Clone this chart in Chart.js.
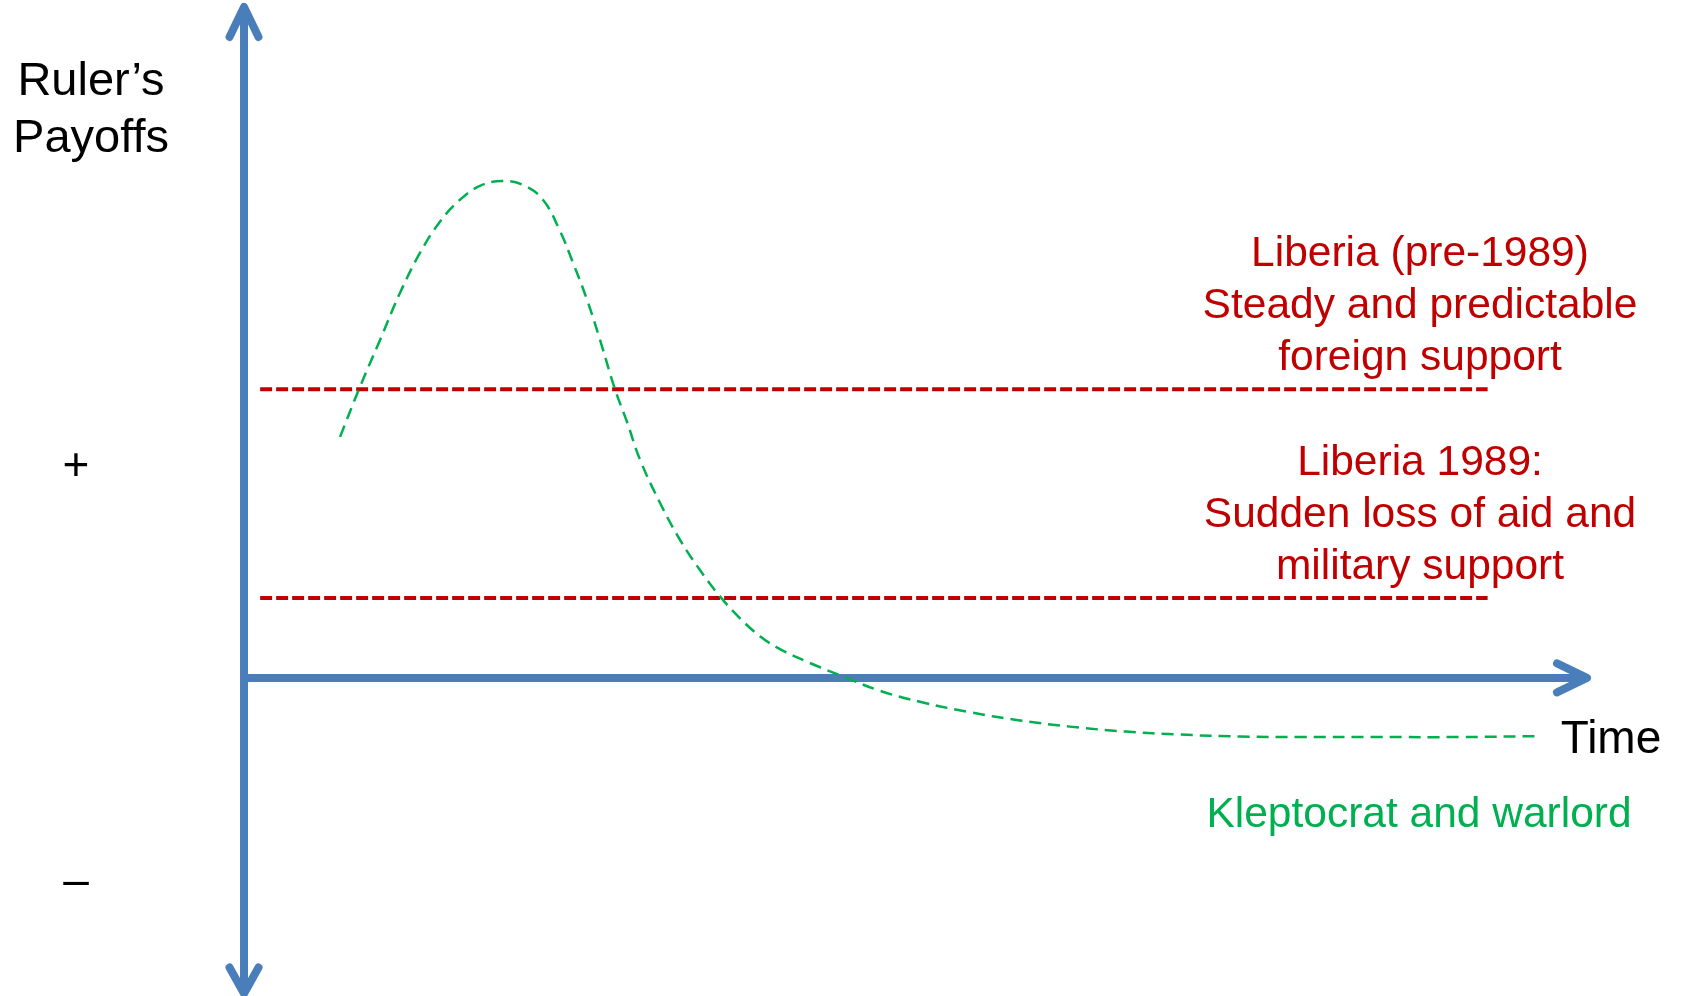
<!DOCTYPE html>
<html>
<head>
<meta charset="utf-8">
<script src="https://cdn.jsdelivr.net/npm/chart.js@4/dist/chart.umd.min.js"></script>
<style>
  html, body { margin: 0; padding: 0; background: #ffffff; }
  #wrap { width: 1681px; height: 996px; }
</style>
</head>
<body>
<div id="wrap"><canvas id="c" width="1681" height="996"></canvas></div>
<script>
// ---------- DATA (time on x, ruler's payoff on y; axes cross at 0,0) ----------
const kleptocratTime = [7.15, 8.64, 10.13, 11.62, 13.10, 14.59, 16.08, 17.57, 19.21, 20.77, 22.26, 23.53, 24.50, 25.54, 26.51, 27.62, 28.52, 29.49, 30.98, 32.46, 33.95, 35.44, 36.93, 38.42, 39.91, 42.14, 44.60, 47.36, 50.48, 54.06, 57.63, 61.50, 65.67, 69.69, 74.16, 78.63, 84.59, 90.54, 96.50];
const kleptocratPayoff = [48.5, 58.6, 68.0, 77.5, 85.5, 91.8, 96.2, 99.0, 100.0, 99.2, 96.2, 89.9, 83.5, 76.1, 68.0, 58.1, 51.5, 43.9, 35.2, 27.8, 21.7, 16.4, 12.0, 8.4, 5.8, 3.0, 0.3, -2.6, -4.9, -6.9, -8.5, -9.8, -10.8, -11.4, -11.8, -11.9, -11.9, -11.9, -11.7];
const supportTime = [1.2, 92.6];
const steadySupportPayoff = [58.1, 58.1];
const lostSupportPayoff = [16.1, 16.1];

const axisTitleY = ["Ruler\u2019s", "Payoffs"];
const axisTitleX = "Time";
const signLabels = ["+", "\u2013"];
const steadyLabel = ["Liberia (pre-1989)", "Steady and predictable", "foreign support"];
const lostLabel = ["Liberia 1989:", "Sudden loss of aid and", "military support"];
const kleptocratLabel = "Kleptocrat and warlord";

// Axis extents in data units
const axisXEnd = 100;
const axisYTop = 135;
const axisYBottom = -63.5;

// ---------- build ----------
const toPts = (xs, ys) => xs.map((x, i) => ({ x: x, y: ys[i] }));

const BLUE = '#4A7EBB', RED = '#C00000', GREEN = '#00B050';
const FONT = '"Liberation Sans", Arial, sans-serif';

const axesPlugin = {
  id: 'arrowAxes',
  beforeDatasetsDraw(chart) {
    const { ctx, scales: { x, y } } = chart;
    const x0 = x.getPixelForValue(0), y0 = y.getPixelForValue(0);
    const xEnd = x.getPixelForValue(axisXEnd);
    const yTop = y.getPixelForValue(axisYTop), yBot = y.getPixelForValue(axisYBottom);
    ctx.save();
    ctx.strokeStyle = BLUE;
    ctx.lineWidth = 8;
    ctx.lineCap = 'butt';
    ctx.beginPath();
    ctx.moveTo(x0, yTop + 2); ctx.lineTo(x0, yBot - 2);
    ctx.moveTo(x0, y0); ctx.lineTo(xEnd - 2, y0);
    ctx.stroke();
    ctx.lineCap = 'round';
    ctx.lineJoin = 'round';
    const a = 30, w = 14.5;
    ctx.beginPath();
    ctx.moveTo(x0 - w, yTop + a); ctx.lineTo(x0, yTop); ctx.lineTo(x0 + w, yTop + a);
    ctx.moveTo(x0 - w, yBot - a + 4); ctx.lineTo(x0, yBot); ctx.lineTo(x0 + w, yBot - a + 4);
    ctx.moveTo(xEnd - a, y0 - w); ctx.lineTo(xEnd, y0); ctx.lineTo(xEnd - a, y0 + w);
    ctx.stroke();
    ctx.restore();
  }
};

const textPlugin = {
  id: 'labels',
  afterDraw(chart) {
    const { ctx, scales: { x, y } } = chart;
    const y0 = y.getPixelForValue(0);
    ctx.save();
    ctx.textAlign = 'center';
    ctx.textBaseline = 'alphabetic';
    // y-axis title
    ctx.fillStyle = '#000000';
    ctx.font = '47px ' + FONT;
    axisTitleY.forEach((t, i) => ctx.fillText(t, 91, 95 + i * 57));
    ctx.font = '46px ' + FONT;
    ctx.fillText(signLabels[0], 76, 480);
    ctx.fillText(signLabels[1], 76, 895);
    ctx.fillText(axisTitleX, 1611, y0 + 75);
    // red labels
    ctx.fillStyle = RED;
    ctx.font = '42.5px ' + FONT;
    const cx = 1420;
    const ySteady = y.getPixelForValue(steadySupportPayoff[0]);
    steadyLabel.forEach((t, i) => ctx.fillText(t, cx, ySteady - 123 + i * 52));
    const yLost = y.getPixelForValue(lostSupportPayoff[0]);
    lostLabel.forEach((t, i) => ctx.fillText(t, cx, yLost - 123 + i * 52));
    // green label
    ctx.fillStyle = GREEN;
    ctx.fillText(kleptocratLabel, 1419, y0 + 149);
    ctx.restore();
  }
};

new Chart(document.getElementById('c'), {
  type: 'scatter',
  data: {
    datasets: [
      {
        label: 'Kleptocrat and warlord',
        data: toPts(kleptocratTime, kleptocratPayoff),
        showLine: true,
        borderColor: GREEN,
        borderWidth: 2.5,
        borderDash: [12, 7],
        tension: 0.4,
        pointRadius: 0,
        fill: false
      },
      {
        label: 'Steady support',
        data: toPts(supportTime, steadySupportPayoff),
        showLine: true,
        borderColor: RED,
        borderWidth: 4,
        borderDash: [12, 4],
        pointRadius: 0,
        fill: false
      },
      {
        label: 'Lost support',
        data: toPts(supportTime, lostSupportPayoff),
        showLine: true,
        borderColor: RED,
        borderWidth: 4,
        borderDash: [12, 4],
        pointRadius: 0,
        fill: false
      }
    ]
  },
  options: {
    responsive: false,
    devicePixelRatio: 1,
    animation: false,
    layout: { padding: 0 },
    plugins: { legend: { display: false }, tooltip: { enabled: false } },
    scales: {
      x: { type: 'linear', min: -18.17, max: 107.0, display: false },
      y: { type: 'linear', min: -64, max: 136.4, display: false }
    }
  },
  plugins: [axesPlugin, textPlugin]
});
</script>
</body>
</html>
